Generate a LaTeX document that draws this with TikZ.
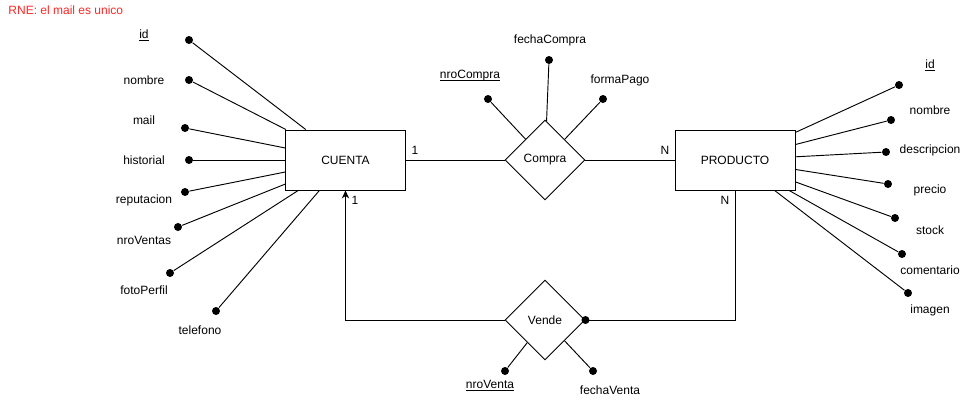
\documentclass[tikz,border=0pt]{standalone}
\usepackage{fontspec}
\setmainfont{Liberation Sans}
\usetikzlibrary{arrows.meta,shapes.geometric,positioning}
\definecolor{rnered}{RGB}{255,38,38}
\newcommand{\keyattr}[1]{\underline{\smash{#1}}}

\begin{document}
\begin{tikzpicture}[x=0.75pt, y=-0.75pt, line width=0.7pt,
    font=\fontsize{9}{11}\selectfont,
    entity/.style={draw, rectangle, minimum width=90pt, minimum height=45pt, inner sep=0pt},
    relation/.style={draw, diamond, aspect=1, minimum width=60pt, minimum height=60pt, inner sep=0pt},
    dot/.style={circle, fill, inner sep=0pt, minimum size=6pt},
    attr/.style={inner sep=1pt},
    card/.style={inner sep=1pt}]
    \useasboundingbox (0,0) rectangle (977,411);

    % Note
    \node[rnered, anchor=west, inner sep=0pt] (rne) at (8,10) {RNE: el mail es unico};

    % Entities and relations
    \node[entity] (cuenta) at (345.5,160) {CUENTA};
    \node[entity] (producto) at (735,160) {PRODUCTO};
    \node[relation] (compra) at (545,160) {Compra};
    \node[relation] (vende) at (545,320) {Vende};

    % Compra
    \draw (cuenta) -- (compra);
    \draw (compra) -- (producto);
    \node[card] (c1) at (415,150) {1};
    \node[card] (cN) at (665,150) {N};

    % Vende
    \draw[-{Stealth[length=6pt, width=5.5pt]}] (vende.west) -| (cuenta.south);
    \draw (vende.east) -| (producto.south);
    \fill (vende.east) circle (3pt);
    \node[card] (v1) at (355,200) {1};
    \node[card] (vN) at (725,200) {N};

    % CUENTA attributes
    \node[dot] (cId) at (189,40) {};
    \node[attr] (cIdLbl) at (144,40) {\keyattr{id}};
    \draw (cId) -- (cuenta);
    \node[dot] (cNombre) at (189,80) {};
    \node[attr] (cNombreLbl) at (144,80) {nombre};
    \draw (cNombre) -- (cuenta);
    \node[dot] (cMail) at (185,128) {};
    \node[attr] (cMailLbl) at (144,120) {mail};
    \draw (cMail) -- (cuenta);
    \node[dot] (cHist) at (189,160) {};
    \node[attr] (cHistLbl) at (144,160) {historial};
    \draw (cHist) -- (cuenta);
    \node[dot] (cRep) at (185,192) {};
    \node[attr] (cRepLbl) at (144,200) {reputacion};
    \draw (cRep) -- (cuenta);
    \node[dot] (cVentas) at (178,227) {};
    \node[attr] (cVentasLbl) at (144,240) {nroVentas};
    \draw (cVentas) -- (cuenta);
    \node[dot] (cFoto) at (170,273) {};
    \node[attr] (cFotoLbl) at (144,290) {fotoPerfil};
    \draw (cFoto) -- (cuenta);
    \node[dot] (cTel) at (216,311) {};
    \node[attr] (cTelLbl) at (200,330) {telefono};
    \draw (cTel) -- (cuenta);

    % PRODUCTO attributes
    \node[dot] (pId) at (899,85) {};
    \node[attr] (pIdLbl) at (930,70) {\keyattr{id}};
    \draw (pId) -- (producto);
    \node[dot] (pNombre) at (891,120) {};
    \node[attr] (pNombreLbl) at (930,110) {nombre};
    \draw (pNombre) -- (producto);
    \node[dot] (pDesc) at (886,152) {};
    \node[attr] (pDescLbl) at (930,150) {descripcion};
    \draw (pDesc) -- (producto);
    \node[dot] (pPrecio) at (888,184) {};
    \node[attr] (pPrecioLbl) at (930,190) {precio};
    \draw (pPrecio) -- (producto);
    \node[dot] (pStock) at (895,218) {};
    \node[attr] (pStockLbl) at (930,230) {stock};
    \draw (pStock) -- (producto);
    \node[dot] (pCom) at (902,254) {};
    \node[attr] (pComLbl) at (930,270) {comentario};
    \draw (pCom) -- (producto);
    \node[dot] (pImg) at (908,293) {};
    \node[attr] (pImgLbl) at (930,310) {imagen};
    \draw (pImg) -- (producto);

    % Compra attributes
    \node[dot] (nroC) at (488,99) {};
    \node[attr] (nroCLbl) at (470,80) {\keyattr{nroCompra}};
    \draw (nroC) -- (compra);
    \node[dot] (fechaC) at (549,60) {};
    \node[attr] (fechaCLbl) at (550,40) {fechaCompra};
    \draw (fechaC) -- (compra);
    \node[dot] (pago) at (603,99) {};
    \node[attr] (pagoLbl) at (620,80) {formaPago};
    \draw (pago) -- (compra);

    % Vende attributes
    \node[dot] (nroV) at (505,371) {};
    \node[attr] (nroVLbl) at (490,390) {\keyattr{nroVenta}};
    \draw (nroV) -- (vende);
    \node[dot] (fechaV) at (593,371) {};
    \node[attr] (fechaVLbl) at (610,390) {fechaVenta};
    \draw (fechaV) -- (vende);
\end{tikzpicture}
\end{document}
